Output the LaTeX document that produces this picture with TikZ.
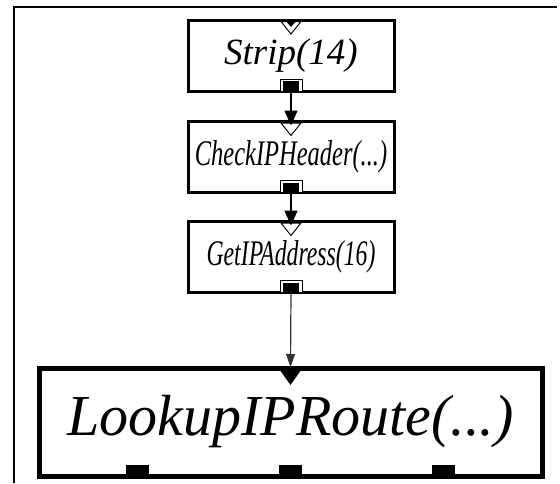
\documentclass[tikz,border=0pt]{standalone}
\usepackage{fontspec}
\setmainfont{Liberation Serif}
\usetikzlibrary{arrows.meta,calc}
\tikzset{
  smallbox/.style={draw, line width=3pt, minimum width=206pt, minimum height=71pt,
    inner sep=0pt, outer sep=0pt},
  bigbox/.style={draw, line width=5pt, minimum width=503pt, minimum height=108pt,
    inner sep=0pt, outer sep=0pt, font=\fontsize{58pt}{58pt}\selectfont\itshape},
  conn/.style={line width=1.2pt, -{Triangle[length=15pt,width=13pt]}},
  thinconn/.style={line width=1.2pt, draw=black!80, -{Triangle[length=13pt,width=9pt]}},
  framestyle/.style={line width=1.5pt},
  pics/outport/.style={code={
    \draw[line width=0.9pt, fill=white] (-11,-12) rectangle (11,0);
    \fill (-8,-10) rectangle (8,0);}},
  pics/inport/.style={code={
    \draw[line width=1pt, fill=white] (-10,1.5) -- (10,1.5) -- (0,14) -- cycle;}},
  pics/bigout/.style={code={\fill (-11.5,-11) rectangle (11.5,0);}},
  pics/bigin/.style={code={\fill (-12,0) -- (12,0) -- (0,17) -- cycle;}}
}
\newcommand\boxlabel[3]{{\fontsize{#1}{#1}\selectfont\itshape\scalebox{#2}[1]{#3}}}
\begin{document}
\begin{tikzpicture}[x=1pt,y=-1pt]
\useasboundingbox (0,0) rectangle (560,483);
\fill[white] (0,0) rectangle (560,483);
% frame
\draw[framestyle] (14,483) -- (14,7) -- (557,7);
% boxes
\node[smallbox] (strip) at (291,55.5) {\boxlabel{37pt}{1}{Strip(14)}};
\node[smallbox] (check) at (291,157) {\boxlabel{36pt}{0.68}{CheckIPHeader(...)}};
\node[smallbox] (getip) at (291,257) {\boxlabel{36pt}{0.66}{GetIPAddress(16)}};
\node[bigbox] (lookup) at (290.5,422) {LookupIPRoute(...)};
% ports
\pic at (strip.north) {inport};
\fill ($(strip.north)+(-6,0)$) -- ($(strip.north)+(6,0)$) -- ($(strip.north)+(0,7)$) -- cycle;
\pic at (strip.south) {outport};
\pic at (check.north) {inport};
\pic at (check.south) {outport};
\pic at (getip.north) {inport};
\pic at (getip.south) {outport};
\pic at (lookup.north) {bigin};
\pic at ($(lookup.south)+(-153,0)$) {bigout};
\pic at (lookup.south) {bigout};
\pic at ($(lookup.south)+(153,0)$) {bigout};
% connectors
\draw[conn] (strip.south) -- ($(check.north)+(0,4)$);
\draw[conn] (check.south) -- ($(getip.north)+(0,4)$);
\draw[thinconn] (getip.south) -- ($(lookup.north)+(0,-1)$);
\end{tikzpicture}
\end{document}
